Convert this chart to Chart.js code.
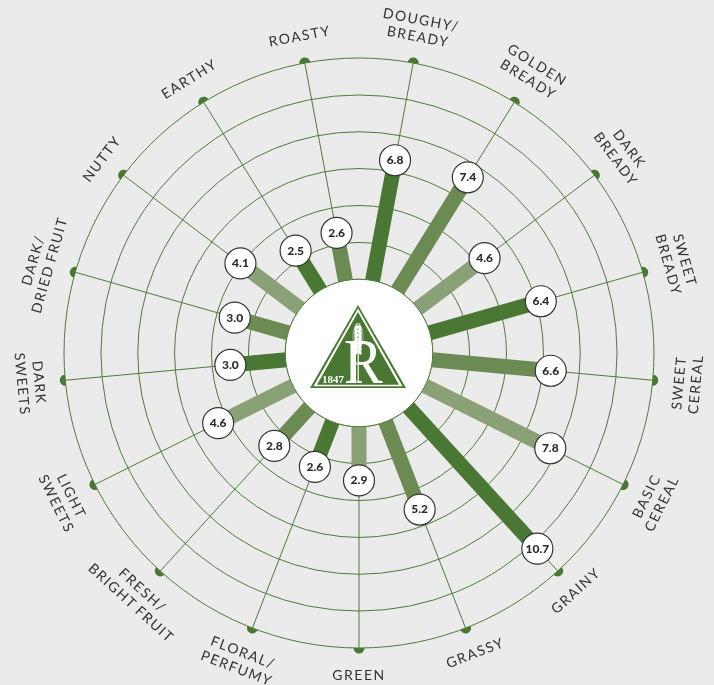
<!DOCTYPE html>
<html>
<head>
<meta charset="utf-8">
<title>Flavor wheel</title>
<style>
  html, body { margin: 0; padding: 0; background: #ebebeb; }
  canvas { display: block; }
</style>
</head>
<body>
<canvas id="wheel" width="714" height="685"></canvas>
<script src="https://cdn.jsdelivr.net/npm/chart.js@4/dist/chart.umd.min.js"></script>
<script>
// Data, clockwise from the first spoke right of the top
const flavors = [
  ['DOUGHY/', 'BREADY'], ['GOLDEN', 'BREADY'], ['DARK', 'BREADY'], ['SWEET', 'BREADY'],
  ['SWEET', 'CEREAL'], ['BASIC', 'CEREAL'], ['GRAINY'], ['GRASSY'], ['GREEN'],
  ['FLORAL/', 'PERFUMY'], ['FRESH/', 'BRIGHT FRUIT'], ['LIGHT', 'SWEETS'], ['DARK', 'SWEETS'],
  ['DARK/', 'DRIED FRUIT'], ['NUTTY'], ['EARTHY'], ['ROASTY']
];
const scores = [6.8, 7.4, 4.6, 6.4, 6.6, 7.8, 10.7, 5.2, 2.9, 2.6, 2.8, 4.6, 3.0, 3.0, 4.1, 2.5, 2.6];

// Rings in the picture are evenly spaced but do not land on round scores
const rings = [-0.15, 1.94, 4.04, 6.14, 8.23, 10.32, 12.42];

const barColors = ['#4a7734', '#6b8a54', '#8aa077']; // repeats around the wheel
const green = '#4f7a3c';
const scaleMin = -4.34; // leaves the hole in the middle for the logo
const scaleMax = 12.42;

function drawLogo(ctx, cx, cy) {
  ctx.save();
  ctx.translate(cx, cy);

  // triangle, thin outline + white gap + solid fill
  const tri = (top, half, base) => {
    ctx.beginPath();
    ctx.moveTo(-1, top);
    ctx.lineTo(-1 + half, base);
    ctx.lineTo(-1 - half, base);
    ctx.closePath();
  };
  ctx.fillStyle = '#4a7734';
  tri(-48, 48, 35);
  ctx.fill();
  ctx.fillStyle = '#fff';
  tri(-44.5, 44.5, 33.2);
  ctx.fill();
  ctx.fillStyle = '#4a7734';
  tri(-41, 41, 31.8);
  ctx.fill();

  // the R
  ctx.save();
  ctx.fillStyle = '#fff';
  ctx.font = '63px "Liberation Serif"';
  ctx.textAlign = 'left';
  ctx.textBaseline = 'alphabetic';
  ctx.translate(-15, 30);
  ctx.scale(0.92, 1);
  ctx.fillText('R', 0, 0);
  ctx.restore();

  // wheat stem, green gap beside the R stem
  ctx.fillStyle = '#4a7734';
  ctx.fillRect(-2.4, -12, 1, 42);
  ctx.fillStyle = '#fff';
  ctx.fillRect(-1.4, -12, 1.2, 42);

  // wheat ear
  ctx.strokeStyle = 'rgba(255,255,255,0.65)';
  ctx.lineWidth = 0.7;
  [-6, -4, -2, 2, 4, 6].forEach((dx) => {
    ctx.beginPath();
    ctx.moveTo(-1 + dx * 0.4, -4);
    ctx.quadraticCurveTo(-1 + dx * 1.4, -17, -1 + dx * 0.25, -30);
    ctx.stroke();
  });
  ctx.fillStyle = '#fff';
  for (let j = 0; j < 7; j++) {
    const y = -25 + j * 4;
    ctx.beginPath();
    ctx.ellipse(-2.8, y, 1.7, 2.8, 0.35, 0, Math.PI * 2);
    ctx.ellipse(0.8, y, 1.7, 2.8, -0.35, 0, Math.PI * 2);
    ctx.fill();
  }

  ctx.fillStyle = '#fff';
  ctx.font = 'bold 11px "Liberation Serif"';
  ctx.textAlign = 'center';
  ctx.textBaseline = 'alphabetic';
  ctx.fillText('1847', -26, 30);
  ctx.restore();
}

// Bars, center disc and outer dots go under the score markers
const wheelUnder = {
  id: 'wheelUnder',
  beforeDatasetsDraw(chart) {
    const ctx = chart.ctx;
    const scale = chart.scales.r;

    scores.forEach((value, i) => {
      const from = scale.getPointPositionForValue(i, -0.5);
      const to = scale.getPointPositionForValue(i, value);
      ctx.beginPath();
      ctx.moveTo(from.x, from.y);
      ctx.lineTo(to.x, to.y);
      ctx.strokeStyle = barColors[i % barColors.length];
      ctx.lineWidth = 15;
      ctx.stroke();

      // half dot sitting on the outer ring
      const end = scale.getPointPositionForValue(i, scaleMax);
      ctx.beginPath();
      ctx.arc(end.x, end.y, 5.5, end.angle - Math.PI / 2, end.angle + Math.PI / 2);
      ctx.closePath();
      ctx.fillStyle = '#4a7734';
      ctx.fill();
    });

    const hole = scale.getDistanceFromCenterForValue(rings[0]);
    ctx.beginPath();
    ctx.arc(scale.xCenter, scale.yCenter, hole, 0, Math.PI * 2);
    ctx.fillStyle = '#fff';
    ctx.fill();
    ctx.strokeStyle = green;
    ctx.lineWidth = 1;
    ctx.stroke();

    drawLogo(ctx, scale.xCenter, scale.yCenter);
  }
};

// Rotated flavor names and the numbers inside the markers
const wheelText = {
  id: 'wheelText',
  afterDatasetsDraw(chart) {
    const ctx = chart.ctx;
    const scale = chart.scales.r;
    const meta = chart.getDatasetMeta(0);

    ctx.save();
    ctx.fillStyle = '#2b2b2b';
    ctx.textAlign = 'center';
    ctx.textBaseline = 'middle';
    ctx.font = '900 12px Lato';
    scores.forEach((value, i) => {
      const pt = meta.data[i];
      ctx.fillText(value.toFixed(1), pt.x, pt.y);
    });

    ctx.fillStyle = '#333';
    ctx.font = '14px Lato';
    ctx.letterSpacing = '1.5px';
    ctx.wordSpacing = '-1.5px';
    flavors.forEach((lines, i) => {
      const dist = lines.length > 1 ? 330 : 322;
      const pos = scale.getPointPosition(i, dist);
      let rot = pos.angle + Math.PI / 2;
      if (rot > Math.PI * 1.5) rot -= Math.PI * 2;
      else if (rot > Math.PI / 2) rot -= Math.PI;
      ctx.save();
      ctx.translate(pos.x, pos.y);
      ctx.rotate(rot);
      lines.forEach((line, k) => {
        ctx.fillText(line, 0, (k - (lines.length - 1) / 2) * 17);
      });
      ctx.restore();
    });
    ctx.restore();
  }
};

new Chart(document.getElementById('wheel').getContext('2d'), {
  type: 'radar',
  data: {
    labels: flavors,
    datasets: [{
      data: scores,
      showLine: false,
      fill: false,
      backgroundColor: 'transparent',
      borderColor: 'transparent',
      pointRadius: 15.5,
      pointHoverRadius: 15.5,
      pointBackgroundColor: '#fff',
      pointBorderColor: '#333',
      pointBorderWidth: 1.2
    }]
  },
  options: {
    responsive: false,
    animation: false,
    layout: { padding: { left: 64, right: 60, top: 58, bottom: 37 } },
    plugins: { legend: { display: false }, tooltip: { enabled: false } },
    scales: {
      r: {
        min: scaleMin,
        max: scaleMax,
        startAngle: 180 / flavors.length,
        afterBuildTicks: (axis) => { axis.ticks = rings.map((value) => ({ value })); },
        ticks: { stepSize: 2, display: false },
        pointLabels: { display: false },
        grid: { circular: true, color: green, lineWidth: 1 },
        angleLines: { color: green, lineWidth: 1 }
      }
    }
  },
  plugins: [wheelUnder, wheelText]
});
</script>
</body>
</html>
